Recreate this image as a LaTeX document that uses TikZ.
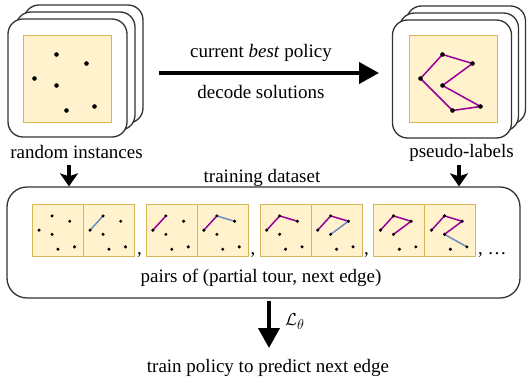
\documentclass[tikz,border=0pt]{standalone}
\usepackage{fontspec}
\setmainfont{Liberation Serif}
\usetikzlibrary{arrows.meta,calc}

\definecolor{sqfill}{HTML}{FFF2CC}
\definecolor{sqline}{HTML}{D6B656}
\definecolor{tour}{RGB}{153,0,153}
\definecolor{nextedge}{HTML}{6C8EBF}
\definecolor{frame}{gray}{0.2}

% dot positions of the six cities, relative to a square's top left corner
\newcommand\citypts[3]{%
  \foreach \k/\px/\py in {1/34/20,2/64/29,3/12/44,4/34/51,5/44/76,6/72/72}
    \coordinate (#1-\k) at ($(#1.north west)+({\px*#2},{\py*#3})$);
}
\newcommand\citydots[2]{%
  \foreach \k in {1,...,6} \fill (#1-\k) circle (#2);
}

\tikzset{
  card/.style={draw=frame, line width=1.3pt, fill=white, rounded corners=15pt,
    minimum width=119pt, minimum height=118pt, inner sep=0pt},
  bigsq/.style={draw=sqline, line width=1pt, fill=sqfill,
    minimum width=88pt, minimum height=87pt, inner sep=0pt},
  minisq/.style={draw=sqline, line width=1pt, fill=sqfill,
    minimum width=51pt, minimum height=52pt, inner sep=0pt, anchor=north west},
  dataset/.style={draw=frame, line width=1.3pt, rounded corners=20pt,
    minimum width=513pt, minimum height=111pt, inner sep=0pt},
  lbl/.style={anchor=base, inner sep=0pt, font=\fontsize{19}{22}\selectfont},
  tourline/.style={draw=tour, line width=1.5pt},
  nextline/.style={draw=nextedge, line width=1.5pt},
  bigarrow/.style={line width=4pt, -{Triangle[length=20pt,width=21pt]}},
  smallarrow/.style={line width=4pt, -{Stealth[length=13pt,width=18pt,inset=3pt]}},
}

\begin{document}
\begin{tikzpicture}[x=1pt,y=-1pt]
\useasboundingbox (0,0) rectangle (527,380);

% stack of random instances
\node[card] (L3) at (83.5,64) {};
\node[card] (L2) at (75.5,71) {};
\node[card] (L1) at (67.5,78) {};
\node[bigsq] (LS) at (67,78.5) {};
\citypts{LS}{1}{1}
\citydots{LS}{2.3pt}
\node[lbl] (Llab) at (76.5,158) {random instances};

% stack of pseudo-labels
\node[card] (R3) at (466,65) {};
\node[card] (R2) at (459,72) {};
\node[card] (R1) at (452,79) {};
\node[bigsq] (RS) at (453,78.5) {};
\citypts{RS}{1}{1}
\draw[tourline] (RS-1) -- (RS-2) -- (RS-4) -- (RS-6) -- (RS-5) -- (RS-3) -- cycle;
\citydots{RS}{2.3pt}
\node[lbl] (Rlab) at (461.5,157.5) {pseudo-labels};

% decoding with the current policy
\coordinate (h1) at (159,73);
\coordinate (h2) at (379,73);
\draw[bigarrow] (h1) -- (h2);
\node[lbl] (pol) at (261,57) {current \textit{best} policy};
\node[lbl] (dec) at (261,98) {decode solutions};

% training dataset
\node[dataset] (D) at (263.5,242.5) {};
\node[lbl] (Dlab) at (262,182) {training dataset};
\coordinate (a1) at (69,165);
\coordinate (a2) at (459,165);
\draw[smallarrow] (a1) -- (a1 |- D.north);
\draw[smallarrow] (a2) -- (a2 |- D.north);

% pairs of partial tour and next edge
\node[minisq] (P1a) at (32,204) {};
\node[minisq] (P1b) at (83,204) {};
\node[minisq] (P2a) at (145.8,204) {};
\node[minisq] (P2b) at (196.8,204) {};
\node[minisq] (P3a) at (259.6,204) {};
\node[minisq] (P3b) at (310.6,204) {};
\node[minisq] (P4a) at (373.4,204) {};
\node[minisq] (P4b) at (424.4,204) {};
\foreach \s in {P1a,P1b,P2a,P2b,P3a,P3b,P4a,P4b} {\citypts{\s}{0.59}{0.595}}

\draw[nextline] (P1b-3) -- (P1b-1);
\draw[tourline] (P2a-3) -- (P2a-1);
\draw[tourline] (P2b-3) -- (P2b-1);
\draw[nextline] (P2b-1) -- (P2b-2);
\draw[tourline] (P3a-3) -- (P3a-1) -- (P3a-2);
\draw[tourline] (P3b-3) -- (P3b-1) -- (P3b-2);
\draw[nextline] (P3b-2) -- (P3b-4);
\draw[tourline] (P4a-3) -- (P4a-1) -- (P4a-2) -- (P4a-4);
\draw[tourline] (P4b-3) -- (P4b-1) -- (P4b-2) -- (P4b-4);
\draw[nextline] (P4b-4) -- (P4b-6);
\foreach \s in {P1a,P1b,P2a,P2b,P3a,P3b,P4a,P4b} {\citydots{\s}{1.7pt}}

\node[lbl] (c1) at (139.5,254) {,};
\node[lbl] (c2) at (253,254) {,};
\node[lbl] (c3) at (366.5,254) {,};
\node[lbl, anchor=base west] (c4) at (478,254) {,~\dots};
\node[lbl] (Plab) at (261,282) {pairs of (partial tour, next edge)};

% training step
\coordinate (t1) at (269,348);
\draw[bigarrow] (D.south -| t1) ++(0,2) coordinate (t0) -- (t1);
\node[lbl, anchor=base west] (loss) at (285,325) {$\mathcal{L}_\theta$};
\node[lbl] (train) at (268,372) {train policy to predict next edge};
\end{tikzpicture}
\end{document}
